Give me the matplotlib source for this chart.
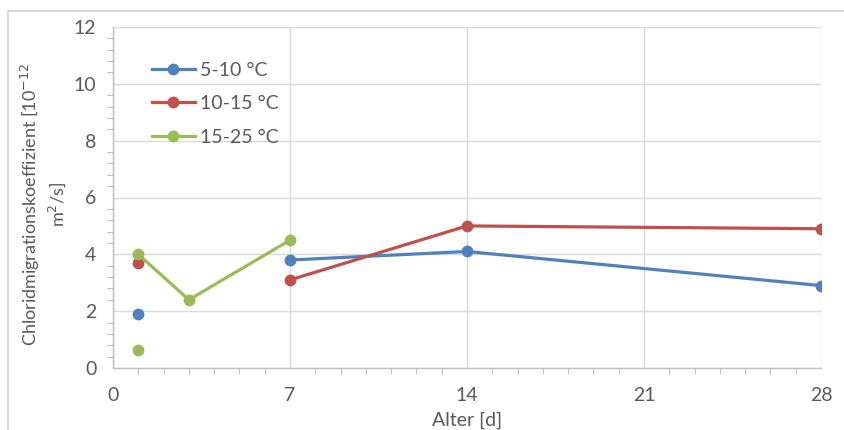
import numpy as np
import matplotlib
matplotlib.use("Agg")
import matplotlib.pyplot as plt
from matplotlib.ticker import MultipleLocator
from matplotlib.patches import Rectangle

plt.rcParams['font.family'] = ['Lato', 'DejaVu Sans']

# Age in days and migration coefficients per curing temperature
days = [1, 3, 7, 14, 28]
series_labels = ["5-10 °C", "10-15 °C", "15-25 °C"]
coef_5_10 = [1.9, np.nan, 3.8, 4.1, 2.9]
coef_10_15 = [3.7, np.nan, 3.1, 5.0, 4.9]
coef_15_25 = [4.0, 2.4, 4.5, np.nan, np.nan]
# second 1-day specimen of the 15-25 °C series
extra_day_15_25 = [1]
extra_coef_15_25 = [0.65]

colors = ["#4F81BD", "#C0504D", "#9BBB59"]
text_col = "#595959"
grid_col = "#D9D9D9"
axis_col = "#BFBFBF"
fs = 14

fig = plt.figure(figsize=(8.44, 4.30), dpi=100)
ax = fig.add_axes([113 / 844, 1 - 368 / 430, (821 - 113) / 844, (368 - 27) / 430])

# chart area frame
fig.patches.append(Rectangle((8 / 844, -0.1), 1.2, 1 - 11 / 430 + 0.1,
                             transform=fig.transFigure, fill=False,
                             edgecolor="#D9D9D9", linewidth=1.5))

style = dict(linewidth=2.3, marker="o", markersize=8.5, markeredgewidth=0)
for vals, lab, col in zip([coef_5_10, coef_10_15, coef_15_25], series_labels, colors):
    ax.plot(days, vals, color=col, label=lab, **style, zorder=3)
ax.plot(extra_day_15_25, extra_coef_15_25, color=colors[2], linestyle="none",
        marker="o", markersize=8.5, markeredgewidth=0, zorder=3)

ax.set_xlim(0, 28)
ax.set_ylim(0, 12)
ax.xaxis.set_major_locator(MultipleLocator(7))
ax.xaxis.set_minor_locator(MultipleLocator(1))
ax.yaxis.set_major_locator(MultipleLocator(2))
ax.yaxis.set_minor_locator(MultipleLocator(0.4))

ax.grid(True, which="major", color=grid_col, linewidth=1.0, zorder=0)
ax.set_axisbelow(True)
for s in ["top", "right"]:
    ax.spines[s].set_visible(False)
for s in ["left", "bottom"]:
    ax.spines[s].set_color(axis_col)
    ax.spines[s].set_linewidth(1.0)

ax.tick_params(which="both", direction="out", color=axis_col, width=0.8,
               labelcolor=text_col, labelsize=fs)
ax.tick_params(which="major", length=0)
ax.tick_params(which="minor", length=4)
ax.tick_params(axis="y", which="major", pad=12)
ax.tick_params(axis="x", which="major", pad=14)

ax.set_xlabel("Alter [d]", color=text_col, fontsize=fs, labelpad=5)
ax.set_ylabel("Chloridmigrationskoeffizient [10$^{-12}$\nm$^2$/s]", color=text_col,
              fontsize=13, labelpad=4, linespacing=1.25)
ax.yaxis.label.set_y(0.48)

leg = ax.legend(loc="upper left", bbox_to_anchor=(0.03, 0.95), frameon=False,
                fontsize=fs, labelcolor=text_col, handlelength=2.2,
                handletextpad=0.3, labelspacing=0.86)

fig.savefig("out.png", dpi=100)
